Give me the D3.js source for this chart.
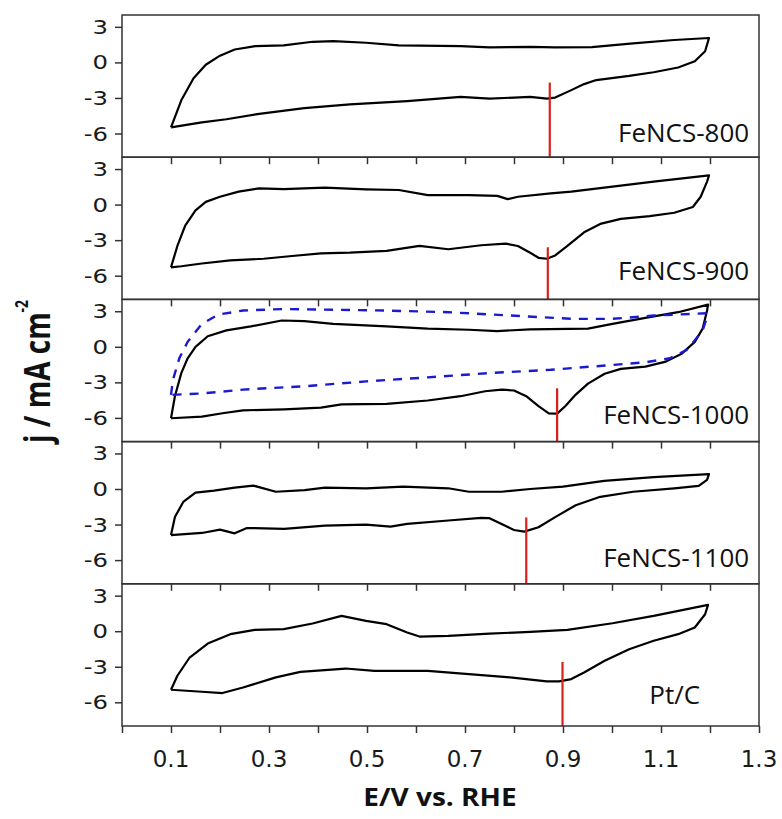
<!DOCTYPE html>
<html>
<head>
<meta charset="utf-8">
<script src="https://cdn.jsdelivr.net/npm/d3@7"></script>
<style>
  html, body { margin: 0; padding: 0; background: #fff; }
</style>
</head>
<body>
<svg id="chart"></svg>
<script>
// panel names, top to bottom
const samples = ['FeNCS-800', 'FeNCS-900', 'FeNCS-1000', 'FeNCS-1100', 'Pt/C'];

// CV loops, [E (V vs RHE), j (mA cm-2)]
const cv800 = [
  [0.1, -5.49], [0.121, -3.2], [0.146, -1.34], [0.171, -0.2], [0.2, 0.57], [0.23, 1.09],
  [0.272, 1.37], [0.33, 1.43], [0.389, 1.74], [0.431, 1.8], [0.498, 1.66], [0.565, 1.43],
  [0.691, 1.37], [0.75, 1.26], [0.833, 1.31], [0.884, 1.26], [0.959, 1.29], [1.043, 1.6],
  [1.127, 1.89], [1.198, 2.06],
  [1.19, 0.94], [1.169, 0.09], [1.135, -0.43], [1.085, -0.83], [1.035, -1.14], [0.968, -1.49],
  [0.943, -1.83], [0.917, -2.34], [0.884, -2.97], [0.867, -3.06], [0.833, -2.91], [0.8, -2.97],
  [0.75, -3.06], [0.691, -2.91], [0.582, -3.26], [0.465, -3.54], [0.372, -3.86], [0.28, -4.34],
  [0.213, -4.8], [0.163, -5.06], [0.1, -5.49]
];
const cv900 = [
  [0.1, -5.29], [0.113, -3.49], [0.129, -1.77], [0.15, -0.49], [0.171, 0.23], [0.2, 0.66],
  [0.238, 1.09], [0.28, 1.37], [0.33, 1.31], [0.414, 1.43], [0.498, 1.29], [0.565, 1.23],
  [0.624, 0.8], [0.708, 0.8], [0.766, 0.74], [0.787, 0.46], [0.808, 0.66], [0.875, 0.94],
  [0.917, 1.09], [1.001, 1.51], [1.085, 1.94], [1.198, 2.46],
  [1.194, 1.94], [1.181, 0.66], [1.165, -0.2], [1.127, -0.69], [1.077, -0.97], [1.018, -1.2],
  [0.976, -1.63], [0.943, -2.34], [0.909, -3.49], [0.884, -4.29], [0.867, -4.57], [0.85, -4.49],
  [0.833, -4.06], [0.808, -3.49], [0.783, -3.29], [0.733, -3.43], [0.666, -3.77], [0.607, -3.49],
  [0.54, -3.91], [0.465, -4.06], [0.406, -4.11], [0.347, -4.34], [0.289, -4.57], [0.221, -4.71],
  [0.163, -4.97], [0.121, -5.2], [0.1, -5.29]
];
const cv1000 = [
  [0.1, -6.03], [0.108, -4.17], [0.121, -2.22], [0.134, -0.97], [0.15, 0], [0.175, 0.89],
  [0.213, 1.39], [0.263, 1.72], [0.326, 2.22], [0.372, 2.17], [0.431, 1.94], [0.54, 1.72],
  [0.624, 1.53], [0.708, 1.44], [0.766, 1.33], [0.833, 1.47], [0.951, 1.53], [1.001, 1.94],
  [1.068, 2.44], [1.135, 2.92], [1.196, 3.56],
  [1.194, 3.06], [1.185, 1.53], [1.169, 0.42], [1.143, -0.56], [1.11, -1.25], [1.068, -1.67],
  [1.018, -1.86], [0.985, -2.28], [0.951, -3.11], [0.926, -4.03], [0.905, -5.0], [0.888, -5.64],
  [0.871, -5.61], [0.85, -5.0], [0.825, -4.17], [0.8, -3.69], [0.775, -3.61], [0.741, -3.75],
  [0.691, -4.17], [0.624, -4.53], [0.54, -4.81], [0.448, -4.86], [0.406, -5.14], [0.331, -5.28],
  [0.247, -5.36], [0.205, -5.61], [0.163, -5.89], [0.1, -6.03]
];
// dashed blue reference loop in the FeNCS-1000 panel
const cv1000Ref = [
  [0.1, -4.06], [0.104, -2.78], [0.117, -0.97], [0.134, 0.42], [0.163, 1.94], [0.197, 2.72],
  [0.247, 3.06], [0.331, 3.19], [0.414, 3.14], [0.54, 3.06], [0.666, 2.92], [0.792, 2.64],
  [0.917, 2.36], [1.001, 2.36], [1.085, 2.64], [1.194, 2.83],
  [1.194, 2.5], [1.185, 1.39], [1.169, 0.56], [1.152, -0.28], [1.118, -0.97], [1.068, -1.31],
  [1.001, -1.53], [0.875, -1.94], [0.749, -2.22], [0.624, -2.58], [0.498, -2.92], [0.372, -3.33],
  [0.247, -3.61], [0.163, -3.94], [0.1, -4.06]
];
const cv1100 = [
  [0.1, -3.89], [0.108, -2.37], [0.125, -1.09], [0.15, -0.31], [0.188, -0.14], [0.23, 0.11],
  [0.268, 0.29], [0.314, -0.23], [0.373, -0.09], [0.414, 0.11], [0.498, 0.06], [0.574, 0.2],
  [0.666, 0.06], [0.708, -0.23], [0.775, -0.23], [0.833, 0], [0.9, 0.2], [0.984, 0.69],
  [1.085, 1.0], [1.198, 1.26],
  [1.194, 0.77], [1.177, 0.26], [1.127, 0.06], [1.043, -0.23], [0.976, -0.66], [0.926, -1.37],
  [0.884, -2.37], [0.85, -3.23], [0.821, -3.6], [0.8, -3.46], [0.75, -2.46], [0.733, -2.43],
  [0.666, -2.66], [0.582, -2.94], [0.548, -3.17], [0.498, -3.0], [0.414, -3.09], [0.331, -3.37],
  [0.255, -3.29], [0.23, -3.74], [0.2, -3.43], [0.163, -3.71], [0.1, -3.89]
];
const cvPtC = [
  [0.1, -4.94], [0.113, -3.76], [0.138, -2.22], [0.175, -1.04], [0.221, -0.25], [0.271, 0.11],
  [0.33, 0.17], [0.389, 0.65], [0.448, 1.29], [0.498, 0.87], [0.54, 0.59], [0.582, -0.11],
  [0.607, -0.45], [0.666, -0.39], [0.75, -0.2], [0.833, -0.06], [0.909, 0.11], [1.001, 0.67],
  [1.085, 1.29], [1.196, 2.22],
  [1.19, 1.43], [1.169, 0.31], [1.135, -0.25], [1.085, -0.81], [1.035, -1.52], [0.985, -2.5],
  [0.943, -3.48], [0.917, -4.04], [0.892, -4.24], [0.867, -4.24], [0.792, -3.9], [0.708, -3.62],
  [0.624, -3.34], [0.515, -3.34], [0.456, -3.15], [0.364, -3.43], [0.314, -3.9], [0.247, -4.75],
  [0.205, -5.22], [0.163, -5.11], [0.1, -4.94]
];
const loops = [cv800, cv900, cv1000, cv1100, cvPtC];

// red markers at the ORR peak: potential and where the mark starts
const peakE = [0.873, 0.869, 0.888, 0.825, 0.899];
const peakTop = [-1.7, -3.6, -3.5, -2.4, -2.6];

// label anchors (right end, baseline) in data units
const labelE = [1.28, 1.28, 1.28, 1.28, 1.18];
const labelJ = [-6.7, -6.4, -6.55, -6.55, -6.15];

const yTicks = [3, 0, -3, -6];
const xMinor = d3.range(0, 14).map(i => i / 10);
const xLabels = [0.1, 0.3, 0.5, 0.7, 0.9, 1.1, 1.3];

const width = 782, height = 819;
const mLeft = 122, mRight = 759, mTop = 15, mBottom = 726;
const panelH = (mBottom - mTop) / samples.length;

const svg = d3.select('#chart').attr('width', width).attr('height', height);

const x = d3.scaleLinear().domain([0, 1.3]).range([mLeft, mRight]);

const line = d3.line().x(d => x(d[0]));

samples.forEach((name, i) => {
  const y0 = mTop + i * panelH;
  const y = d3.scaleLinear().domain([-8, 4]).range([y0 + panelH, y0]);
  line.y(d => y(d[1]));

  const g = svg.append('g');

  // y axis, ticks out to the left
  const ya = g.append('g')
    .attr('transform', `translate(${mLeft},0)`)
    .call(d3.axisLeft(y).tickValues(yTicks).tickSize(7).tickFormat(''));
  ya.select('.domain').remove();
  ya.selectAll('line').attr('stroke', '#333').attr('stroke-width', 1.5);
  yTicks.forEach(t => {
    g.append('text')
      .attr('transform', `translate(${mLeft - 14},${y(t)}) scale(1.25,1)`)
      .attr('text-anchor', 'end')
      .attr('dy', '0.36em')
      .style('font-family', 'DejaVu Sans')
      .style('font-size', '19.5px')
      .attr('fill', '#1a1a1a')
      .text(t);
  });

  // top ticks pointing in (not on the first panel)
  if (i > 0) {
    const xa = g.append('g')
      .attr('transform', `translate(0,${y0})`)
      .call(d3.axisBottom(x).tickValues(xMinor.slice(1, 13)).tickSize(7).tickFormat(''));
    xa.select('.domain').remove();
    xa.selectAll('line').attr('stroke', '#333').attr('stroke-width', 1.5);
  }

  // curves
  g.append('path')
    .datum(loops[i])
    .attr('fill', 'none')
    .attr('stroke', '#000')
    .attr('stroke-width', 2.2)
    .attr('stroke-linejoin', 'round')
    .attr('d', line);

  if (i === 2) {
    g.append('path')
      .datum(cv1000Ref)
      .attr('fill', 'none')
      .attr('stroke', '#1a1ad0')
      .attr('stroke-width', 2.4)
      .attr('stroke-dasharray', '9,8')
      .attr('d', line);
  }

  // red peak marker
  g.append('line')
    .attr('x1', x(peakE[i])).attr('x2', x(peakE[i]))
    .attr('y1', y(peakTop[i])).attr('y2', y(-8))
    .attr('stroke', '#d8211b')
    .attr('stroke-width', 2.2);

  // frame
  g.append('rect')
    .attr('x', mLeft).attr('y', y0)
    .attr('width', mRight - mLeft).attr('height', panelH)
    .attr('fill', 'none')
    .attr('stroke', '#333')
    .attr('stroke-width', 1.5);

  g.append('text')
    .attr('x', x(labelE[i]))
    .attr('y', y(labelJ[i]))
    .attr('text-anchor', 'end')
    .style('font-family', 'Open Sans')
    .style('font-size', '26px')
    .attr('fill', '#111')
    .text(name);
});

// bottom axis
const xb = svg.append('g')
  .attr('transform', `translate(0,${mBottom})`)
  .call(d3.axisBottom(x).tickValues(xMinor).tickSize(7).tickFormat(''));
xb.select('.domain').remove();
xb.selectAll('line').attr('stroke', '#333').attr('stroke-width', 1.5);

svg.append('g').selectAll('text')
  .data(xLabels)
  .join('text')
  .attr('x', d => x(d))
  .attr('y', mBottom + 41)
  .attr('text-anchor', 'middle')
  .style('font-family', 'DejaVu Sans')
  .style('font-size', '23px')
  .attr('fill', '#1a1a1a')
  .text(d => d.toFixed(1));

// axis titles
svg.append('text')
  .attr('transform', `translate(440,806) scale(1.12,1)`)
  .attr('text-anchor', 'middle')
  .style('font-family', 'Open Sans')
  .style('font-weight', 700)
  .style('font-size', '25px')
  .attr('fill', '#111')
  .text('E/V vs. RHE');

const yt = svg.append('text')
  .attr('transform', `translate(50,443) rotate(-90) scale(1,1.3)`)
  .attr('text-anchor', 'start')
  .style('font-family', 'Open Sans')
  .style('font-weight', 700)
  .style('font-size', '28px')
  .attr('fill', '#111');
yt.append('tspan').text('j / mA cm');
yt.append('tspan').attr('dy', -17).style('font-size', '14px').text('-2');
</script>
</body>
</html>
